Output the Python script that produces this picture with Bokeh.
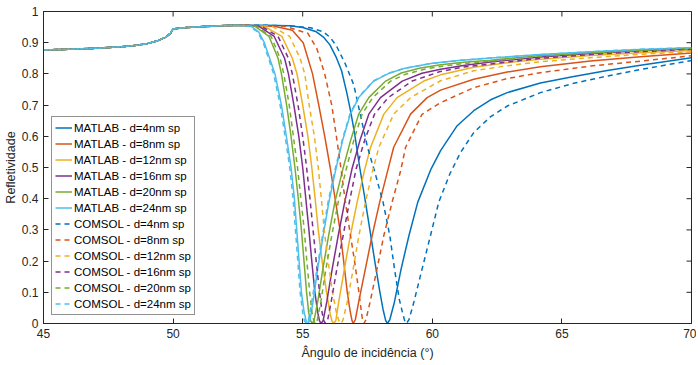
import math
from bokeh.plotting import figure
from bokeh.models import Legend, LegendItem, Range1d, FixedTicker
from bokeh.embed import file_html
from bokeh.resources import INLINE

# ---------------- data ----------------
x_ticks = [45, 50, 55, 60, 65, 70]
y_ticks = [0, 0.1, 0.2, 0.3, 0.4, 0.5, 0.6, 0.7, 0.8, 0.9, 1]
y_tick_labels = ["0", "0.1", "0.2", "0.3", "0.4", "0.5", "0.6", "0.7", "0.8", "0.9", "1"]
x_lo, x_hi = 45, 70
y_lo, y_hi = 0, 1

# common part below the resonance (all curves overlap here)
base_x = [45.0, 46.0, 47.0, 48.0, 48.5, 49.0, 49.4, 49.7, 49.9, 50.0, 50.3, 51.0, 51.5, 52.0, 52.5]
base_y = [0.877, 0.879, 0.882, 0.887, 0.891, 0.897, 0.906, 0.917, 0.930, 0.944, 0.947, 0.951, 0.953, 0.955, 0.956]

labels = ["MATLAB - d=4nm sp", "MATLAB - d=8nm sp", "MATLAB - d=12nm sp",
          "MATLAB - d=16nm sp", "MATLAB - d=20nm sp", "MATLAB - d=24nm sp",
          "COMSOL - d=4nm sp", "COMSOL - d=8nm sp", "COMSOL - d=12nm sp",
          "COMSOL - d=16nm sp", "COMSOL - d=20nm sp", "COMSOL - d=24nm sp"]

# MATLAB d=4nm
m4_x = [53.5, 54.5, 55.0, 55.5, 55.8, 56.05, 56.3, 56.5, 56.7, 56.85, 57.0, 57.2, 57.4, 57.6, 57.78, 57.98, 58.1, 58.2, 58.27,
        58.36, 58.54, 58.8, 59.1, 59.44, 59.95, 60.32, 60.96, 61.6, 62.25, 62.89, 64.17, 65.46, 66.75, 68.03, 70.0]
m4_y = [0.956, 0.954, 0.949, 0.936, 0.918, 0.893, 0.852, 0.81, 0.74, 0.68, 0.61, 0.5, 0.4, 0.296, 0.2, 0.1, 0.045, 0.01, 0.0,
        0.012, 0.069, 0.176, 0.282, 0.389, 0.495, 0.554, 0.634, 0.682, 0.717, 0.74, 0.771, 0.792, 0.811, 0.828, 0.852]
# MATLAB d=8nm
m8_x = [53.9, 54.6, 55.02, 55.38, 55.62, 55.85, 56.06, 56.25, 56.44, 56.58, 56.72, 56.83, 56.9, 56.95,
        57.03, 57.16, 57.42, 57.68, 57.97, 58.28, 58.51, 59.16, 59.8, 60.32, 61.6, 62.89, 64.17, 66.1, 68.03, 70.0]
m8_y = [0.953, 0.94, 0.9, 0.8, 0.7, 0.6, 0.5, 0.4, 0.3, 0.2, 0.1, 0.04, 0.01, 0.0,
        0.012, 0.069, 0.176, 0.282, 0.389, 0.49, 0.565, 0.671, 0.724, 0.748, 0.783, 0.806, 0.823, 0.841, 0.855, 0.867]
# MATLAB d=12nm
m12_x = [53.5, 54.2, 54.6, 54.78, 55.0, 55.2, 55.35, 55.48, 55.6, 55.75, 55.92, 56.05, 56.13, 56.2,
         56.28, 56.39, 56.61, 56.84, 57.1, 57.38, 57.62, 58.13, 58.64, 59.67, 60.32, 61.6, 62.89, 64.17, 66.1, 68.03, 70.0]
m12_y = [0.953, 0.92, 0.85, 0.8, 0.7, 0.6, 0.5, 0.4, 0.3, 0.2, 0.1, 0.035, 0.008, 0.0,
         0.01, 0.069, 0.176, 0.282, 0.389, 0.49, 0.565, 0.671, 0.724, 0.777, 0.797, 0.821, 0.836, 0.847, 0.859, 0.868, 0.875]
# MATLAB d=16nm
m16_x = [53.3, 53.9, 54.3, 54.45, 54.66, 54.85, 55.0, 55.12, 55.24, 55.35, 55.47, 55.58, 55.65, 55.71,
         55.79, 55.93, 56.14, 56.37, 56.62, 56.9, 57.22, 57.55, 58.0, 58.84, 59.6, 60.32, 61.2, 62.25, 64.17, 66.1, 68.0, 70.0]
m16_y = [0.953, 0.92, 0.85, 0.8, 0.7, 0.6, 0.5, 0.4, 0.3, 0.2, 0.1, 0.035, 0.008, 0.0,
         0.01, 0.07, 0.176, 0.282, 0.389, 0.495, 0.59, 0.671, 0.724, 0.777, 0.802, 0.815, 0.827, 0.838, 0.854, 0.865, 0.874, 0.881]
# MATLAB d=20nm
m20_x = [53.15, 53.7, 54.05, 54.18, 54.38, 54.55, 54.7, 54.83, 54.95, 55.05, 55.15, 55.23, 55.31, 55.37,
         55.44, 55.58, 55.78, 56.0, 56.24, 56.55, 56.86, 57.16, 57.55, 58.2, 58.8, 59.5, 60.32, 61.2, 62.25, 64.17, 66.1, 68.0, 70.0]
m20_y = [0.953, 0.92, 0.85, 0.8, 0.7, 0.6, 0.5, 0.4, 0.3, 0.2, 0.1, 0.035, 0.008, 0.0,
         0.01, 0.07, 0.176, 0.282, 0.389, 0.495, 0.59, 0.671, 0.724, 0.777, 0.803, 0.818, 0.829, 0.837, 0.844, 0.859, 0.868, 0.876, 0.883]
# MATLAB d=24nm
m24_x = [53.0, 53.3, 53.52, 53.93, 54.18, 54.37, 54.55, 54.68, 54.77, 54.86, 54.95, 55.05, 55.13, 55.2,
         55.28, 55.4, 55.58, 55.79, 56.01, 56.28, 56.55, 56.84, 57.16, 57.74, 58.3, 58.9, 60.0, 61.0, 62.25, 64.17, 66.1, 68.0, 70.0]
m24_y = [0.953, 0.935, 0.9, 0.8, 0.7, 0.6, 0.5, 0.4, 0.3, 0.2, 0.1, 0.039, 0.009, 0.0,
         0.011, 0.07, 0.176, 0.282, 0.389, 0.495, 0.59, 0.671, 0.724, 0.777, 0.801, 0.817, 0.834, 0.843, 0.851, 0.862, 0.871, 0.878, 0.884]

# COMSOL d=4nm
c4_x = [53.5, 54.5, 55.3, 55.8, 56.07, 56.3, 56.65, 56.97, 57.22, 57.5, 57.8, 58.1, 58.36, 58.54, 58.72, 58.85, 58.93, 59.0,
        59.1, 59.29, 59.61, 59.93, 60.25, 60.68, 61.09, 61.6, 62.25, 62.89, 64.17, 65.46, 66.75, 68.03, 70.0]
c4_y = [0.956, 0.954, 0.948, 0.935, 0.916, 0.89, 0.831, 0.765, 0.671, 0.565, 0.48, 0.389, 0.282, 0.176, 0.08, 0.035, 0.01, 0.0,
        0.012, 0.069, 0.176, 0.282, 0.389, 0.48, 0.548, 0.612, 0.663, 0.697, 0.74, 0.77, 0.793, 0.814, 0.843]
# COMSOL d=8nm
c8_x = [54.3, 55.2, 55.55, 55.85, 56.12, 56.3, 56.47, 56.63, 56.81, 57.0, 57.17, 57.26, 57.31, 57.36,
        57.44, 57.6, 57.87, 58.13, 58.45, 58.78, 58.97, 59.6, 60.3, 61.6, 62.89, 64.17, 66.1, 68.03, 70.0]
c8_y = [0.953, 0.93, 0.88, 0.8, 0.7, 0.6, 0.5, 0.4, 0.3, 0.2, 0.1, 0.04, 0.01, 0.0,
        0.012, 0.069, 0.176, 0.282, 0.389, 0.49, 0.565, 0.67, 0.707, 0.756, 0.785, 0.804, 0.825, 0.841, 0.858]
# COMSOL d=12nm
c12_x = [53.8, 54.5, 54.9, 55.08, 55.25, 55.45, 55.6, 55.72, 55.83, 55.98, 56.15, 56.3, 56.4, 56.47,
         56.55, 56.72, 56.95, 57.17, 57.42, 57.7, 57.94, 58.51, 59.16, 60.32, 61.6, 62.89, 64.17, 66.1, 68.03, 70.0]
c12_y = [0.953, 0.92, 0.85, 0.8, 0.7, 0.6, 0.5, 0.4, 0.3, 0.2, 0.1, 0.035, 0.008, 0.0,
         0.01, 0.069, 0.176, 0.282, 0.389, 0.49, 0.565, 0.671, 0.724, 0.778, 0.81, 0.826, 0.839, 0.852, 0.863, 0.871]
# COMSOL d=16nm
c16_x = [53.4, 54.05, 54.45, 54.6, 54.82, 55.0, 55.15, 55.28, 55.4, 55.52, 55.65, 55.75, 55.82, 55.88,
         55.96, 56.1, 56.32, 56.56, 56.8, 57.06, 57.4, 57.77, 58.3, 59.22, 60.32, 61.2, 62.25, 64.17, 66.1, 68.0, 70.0]
c16_y = [0.953, 0.92, 0.85, 0.8, 0.7, 0.6, 0.5, 0.4, 0.3, 0.2, 0.1, 0.035, 0.008, 0.0,
         0.01, 0.07, 0.176, 0.282, 0.389, 0.495, 0.59, 0.671, 0.724, 0.777, 0.808, 0.822, 0.832, 0.85, 0.862, 0.871, 0.879]
# COMSOL d=20nm
c20_x = [53.2, 53.78, 54.13, 54.27, 54.48, 54.64, 54.8, 54.93, 55.06, 55.16, 55.27, 55.36, 55.43, 55.49,
         55.56, 55.7, 55.9, 56.12, 56.37, 56.68, 56.98, 57.29, 57.7, 58.39, 59.0, 59.7, 60.32, 61.2, 62.25, 64.17, 66.1, 68.0, 70.0]
c20_y = [0.953, 0.92, 0.85, 0.8, 0.7, 0.6, 0.5, 0.4, 0.3, 0.2, 0.1, 0.035, 0.008, 0.0,
         0.01, 0.07, 0.176, 0.282, 0.389, 0.495, 0.59, 0.671, 0.724, 0.777, 0.8, 0.815, 0.824, 0.833, 0.841, 0.857, 0.867, 0.875, 0.882]
# COMSOL d=24nm
c24_x = [52.95, 53.25, 53.48, 53.88, 54.13, 54.32, 54.5, 54.63, 54.72, 54.81, 54.9, 55.0, 55.07, 55.14,
         55.22, 55.36, 55.56, 55.77, 55.98, 56.25, 56.53, 56.82, 57.14, 57.72, 58.28, 58.88, 60.0, 61.0, 62.25, 64.17, 66.1, 68.0, 70.0]
c24_y = [0.953, 0.935, 0.9, 0.8, 0.7, 0.6, 0.5, 0.4, 0.3, 0.2, 0.1, 0.035, 0.008, 0.0,
         0.011, 0.075, 0.18, 0.285, 0.39, 0.495, 0.59, 0.671, 0.724, 0.777, 0.801, 0.817, 0.834, 0.843, 0.851, 0.862, 0.871, 0.879, 0.884]

series_x = [m4_x, m8_x, m12_x, m16_x, m20_x, m24_x, c4_x, c8_x, c12_x, c16_x, c20_x, c24_x]
series_y = [m4_y, m8_y, m12_y, m16_y, m20_y, m24_y, c4_y, c8_y, c12_y, c16_y, c20_y, c24_y]

colors = ["#0072BD", "#D95319", "#EDB120", "#7E2F8E", "#77AC30", "#4DBEEE"]

# ---------------- figure ----------------
FONT = "Liberation Sans"
AX = "#262626"

p = figure(frame_width=648, frame_height=312, output_backend="svg", toolbar_location=None,
           x_range=Range1d(x_lo, x_hi), y_range=Range1d(y_lo, y_hi),
           min_border_left=42, min_border_top=11, min_border_right=5, min_border_bottom=38)
p.background_fill_color = "white"
p.border_fill_color = "white"
p.outline_line_color = AX
p.outline_line_width = 1
p.outline_line_alpha = 1
p.xgrid.visible = False
p.ygrid.visible = False

renderers = []
for i in range(12):
    xs = base_x + series_x[i]
    ys = base_y + series_y[i]
    col = colors[i % 6]
    if i < 6:
        r = p.line(xs, ys, line_color=col, line_width=1.5)
    else:
        r = p.line(xs, ys, line_color=col, line_width=1.5, line_dash="5 4")
    renderers.append(r)

# inward ticks on the top and right edges (MATLAB "box on" look)
p.scatter(x=x_ticks, y=[y_hi] * len(x_ticks), marker="dash", size=10, angle=math.pi / 2,
          line_color=AX, line_width=1)
p.scatter(x=[x_hi] * len(y_ticks), y=y_ticks, marker="dash", size=10,
          line_color=AX, line_width=1)

def style_axis(ax):
    ax.axis_line_color = AX
    ax.axis_line_width = 1
    ax.major_tick_line_color = AX
    ax.major_tick_in = 5
    ax.major_tick_out = 0
    ax.minor_tick_line_color = None
    ax.major_label_text_font = FONT
    ax.major_label_text_color = AX
    ax.major_label_text_font_size = "12px"
    ax.axis_label_text_font = FONT
    ax.axis_label_text_color = AX
    ax.axis_label_text_font_style = "normal"
    ax.axis_label_text_font_size = "12.5px"

xa = p.xaxis[0]
xa.ticker = FixedTicker(ticks=x_ticks)
style_axis(xa)
xa.major_label_standoff = 5
xa.axis_label = "Ângulo de incidência (°)"
xa.axis_label_standoff = 5

ya = p.yaxis[0]
ya.ticker = FixedTicker(ticks=y_ticks)
ya.major_label_overrides = {t: l for t, l in zip(y_ticks, y_tick_labels)}
style_axis(ya)
ya.major_label_standoff = 5
ya.axis_label = "Refletividade"
ya.axis_label_standoff = 1

items = [LegendItem(label=labels[i], renderers=[renderers[i]]) for i in range(12)]
legend = Legend(items=items, location="bottom_left", margin=8, padding=3, spacing=1,
                glyph_width=17, glyph_height=15, label_height=15, label_standoff=2,
                label_text_font=FONT, label_text_font_size="11.5px", label_text_color="#000000",
                border_line_color=AX, border_line_width=1, background_fill_color="white",
                background_fill_alpha=1)
p.add_layout(legend)

open("out.html", "w").write(file_html(p, INLINE))
